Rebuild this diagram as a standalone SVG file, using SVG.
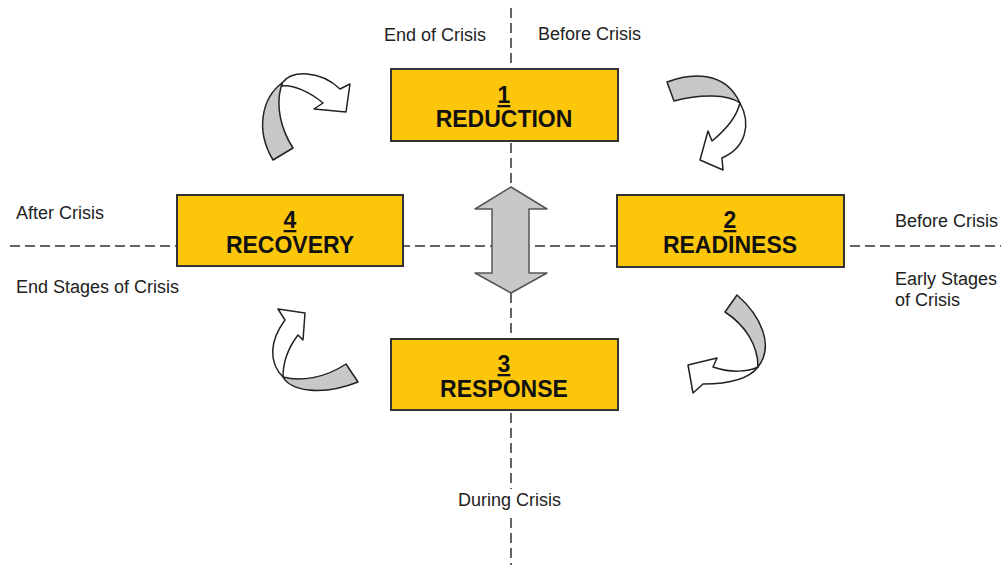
<svg xmlns="http://www.w3.org/2000/svg" width="1001" height="565" viewBox="0 0 1001 565">
<style>
.box{fill:#FCC70B;stroke:#333;stroke-width:2}
.num{font-family:"Liberation Sans",Arial,sans-serif;font-weight:bold;font-size:23px;text-anchor:middle;fill:#111;text-decoration:underline}
.ttl{font-family:"Liberation Sans",Arial,sans-serif;font-weight:bold;font-size:23px;text-anchor:middle;fill:#111}
.lbl{font-family:"Liberation Sans",Arial,sans-serif;font-size:18px;fill:#222}
.dash{stroke:#333;stroke-width:1.5;stroke-dasharray:10 5;fill:none}
.gray{fill:#c8c8c8;stroke:#222;stroke-width:1.5;stroke-linejoin:round}
.white{fill:#fff;stroke:#222;stroke-width:1.5;stroke-linejoin:round}
</style>
<rect width="1001" height="565" fill="#fff"/>
<g id="connectors">
<line class="dash" x1="511" y1="8" x2="511" y2="565"/>
<line class="dash" x1="10" y1="246" x2="1001" y2="246"/>
</g>
<g id="labels">
<text class="lbl" x="384" y="41">End of Crisis</text>
<text class="lbl" x="538" y="40">Before Crisis</text>
<text class="lbl" x="16" y="219">After Crisis</text>
<text class="lbl" x="16" y="293">End Stages of Crisis</text>
<text class="lbl" x="895" y="227">Before Crisis</text>
<text class="lbl" x="895" y="285">Early Stages</text>
<text class="lbl" x="895" y="306">of Crisis</text>
<rect x="455" y="489" width="114" height="24" fill="#fff"/>
<text class="lbl" x="458" y="506">During Crisis</text>
</g>
<g id="center-arrow">
<polygon class="gray" style="stroke:#555" points="511,187 547,209 529,209 529,273 547,273 511,293 475,273 492,273 492,209 475,209"/>
</g>
<g id="node1">
<rect class="box" x="391" y="69" width="227" height="72"/>
<text class="num" x="504" y="103">1</text>
<text class="ttl" x="504" y="127">REDUCTION</text>
</g>
<g id="node2">
<rect class="box" x="617" y="195" width="227" height="72"/>
<text class="num" x="730" y="228">2</text>
<text class="ttl" x="730" y="253">READINESS</text>
</g>
<g id="node3">
<rect class="box" x="391" y="339" width="227" height="71"/>
<text class="num" x="504" y="372">3</text>
<text class="ttl" x="504" y="397">RESPONSE</text>
</g>
<g id="node4">
<rect class="box" x="177" y="195" width="226" height="71"/>
<text class="num" x="290" y="228">4</text>
<text class="ttl" x="290" y="253">RECOVERY</text>
</g>
<g id="cycle-arrows">
<path class="white" d="M282,83 C292,70 320,70 340,89 L350,84 L346,112 L314,109 L323,103 C310,92 292,84 282,86 Z"/>
<path class="gray" d="M282,83 C262,98 255,130 273,160 L293,148 C280,128 276,105 281,87 Z"/>
<path class="white" d="M740,103 C752,125 745,148 722,158 L723,170 L700,160 L708,131 L712,141 C728,128 737,115 740,103 Z"/>
<path class="gray" d="M667,82 C690,73 725,70 740,103 C728,94 700,94 674,101 Z"/>
<path class="white" d="M758,367 C748,380 725,384 703,384 L693,393 L688,365 L717,358 L713,367 C730,373 748,372 758,367 Z"/>
<path class="gray" d="M737,295 C760,315 775,345 758,367 C758,345 745,325 725,312 Z"/>
<path class="white" d="M283,377 C268,362 270,340 285,320 L278,309 L305,313 L303,340 L298,335 C288,348 283,362 283,377 Z"/>
<path class="gray" d="M346,364 C325,378 300,382 283,377 C290,390 320,397 358,382 Z"/>
</g>
</svg>
